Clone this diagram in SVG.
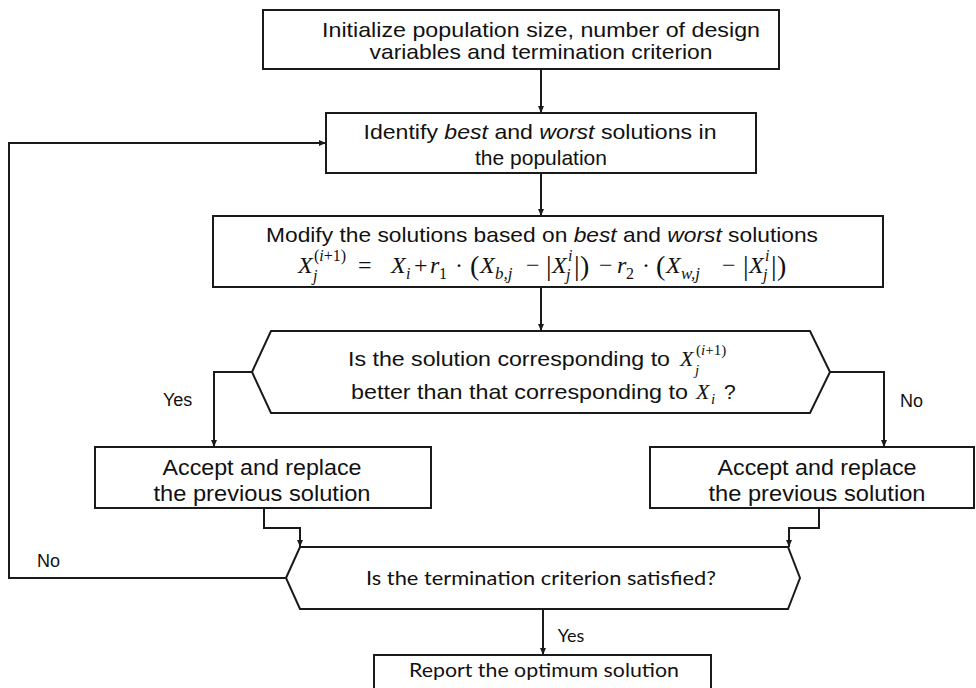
<svg xmlns="http://www.w3.org/2000/svg" width="976" height="688" viewBox="0 0 976 688">
<defs>
<marker id="ah" markerUnits="userSpaceOnUse" markerWidth="7" markerHeight="6" refX="7" refY="3" orient="auto">
<path d="M0,0 L7,3 L0,6 z" fill="#1a1a1a"/>
</marker>
<style>
.box{fill:#fff;stroke:#1a1a1a;stroke-width:2}
.con{fill:none;stroke:#1a1a1a;stroke-width:2;marker-end:url(#ah)}
.t{font-family:"Liberation Sans",Arial,sans-serif;font-size:21px;fill:#111;text-anchor:middle}
.lb{font-family:"Liberation Sans",Arial,sans-serif;font-size:18px;fill:#111}
.c{font-family:Lato,"Open Sans",sans-serif;font-size:20px;fill:#111;text-anchor:middle}
.m{font-family:"Liberation Serif","Times New Roman",serif;font-size:24px;fill:#111}
.mi{font-style:italic}
.ms{font-size:16px}
.mp{font-size:28px}
</style>
</defs>
<rect width="976" height="688" fill="#fff"/>
<g id="connectors">
<path class="con" d="M541,70 V113"/>
<path class="con" d="M541,173 V216"/>
<path class="con" d="M541,287 V331"/>
<path class="con" d="M252,372 H214 V447"/>
<path class="con" d="M830,372 H884 V447"/>
<path class="con" d="M264,508 V528 H300 V547"/>
<path class="con" d="M819,508 V528 H789 V547"/>
<path class="con" d="M286,578 H9 V143 H326"/>
<path class="con" d="M543,609 V655"/>
</g>
<g id="labels">
<text class="lb" x="163" y="406">Yes</text>
<text class="lb" x="900" y="407">No</text>
<text class="lb" x="37" y="567">No</text>
<text class="c" x="571" y="642" style="font-size:18px">Yes</text>
</g>
<g id="init">
<rect class="box" x="263" y="10" width="516" height="59"/>
<text class="t" x="541" y="37" textLength="438" lengthAdjust="spacingAndGlyphs">Initialize population size, number of design</text>
<text class="t" x="541" y="59" textLength="343" lengthAdjust="spacingAndGlyphs">variables and termination criterion</text>
</g>
<g id="identify">
<rect class="box" x="326" y="113" width="430" height="60"/>
<text class="t" x="540" y="139" textLength="353" lengthAdjust="spacingAndGlyphs">Identify <tspan font-style="italic">best</tspan> and <tspan font-style="italic">worst</tspan> solutions in</text>
<text class="t" x="541" y="165">the population</text>
</g>
<g id="modify">
<rect class="box" x="213" y="216" width="670" height="71"/>
<text class="t" x="542" y="242" textLength="552" lengthAdjust="spacingAndGlyphs">Modify the solutions based on <tspan font-style="italic">best</tspan> and <tspan font-style="italic">worst</tspan> solutions</text>
<g class="m">
<text class="mi" x="298" y="273">X</text>
<text class="ms" x="314" y="261">(<tspan class="mi">i</tspan>+1)</text>
<text class="mi ms" x="313" y="281">j</text>
<text x="358" y="273">=</text>
<text class="mi" x="391" y="273">X</text>
<text class="mi ms" x="406" y="279">i</text>
<text x="414" y="273">+</text>
<text class="mi" x="430" y="273">r</text>
<text class="ms" x="439" y="279">1</text>
<text x="455" y="273">·</text>
<text class="mp" x="470" y="275">(</text>
<text class="mi" x="480" y="273">X</text>
<text class="mi" x="495" y="279" style="font-size:17px">b,j</text>
<text x="526" y="273">−</text>
<text class="mp" x="546" y="275">|</text>
<text class="mi" x="552" y="273">X</text>
<text class="mi ms" x="568" y="261">i</text>
<text class="mi ms" x="566" y="280">j</text>
<text class="mp" x="574" y="275">|</text>
<text class="mp" x="580" y="275">)</text>
<text x="599" y="273">−</text>
<text class="mi" x="617" y="273">r</text>
<text class="ms" x="626" y="279">2</text>
<text x="642" y="273">·</text>
<text class="mp" x="656" y="275">(</text>
<text class="mi" x="666" y="273">X</text>
<text class="mi" x="681" y="279" style="font-size:17px">w,j</text>
<text x="722" y="273">−</text>
<text class="mp" x="743" y="275">|</text>
<text class="mi" x="749" y="273">X</text>
<text class="mi ms" x="765" y="261">i</text>
<text class="mi ms" x="763" y="280">j</text>
<text class="mp" x="771" y="275">|</text>
<text class="mp" x="777" y="275">)</text>
</g>
</g>
<g id="decision">
<polygon class="box" points="252,372 271,331 810,331 830,372 810,413 271,413"/>
<text class="t" x="348" y="366" style="text-anchor:start" textLength="322" lengthAdjust="spacingAndGlyphs">Is the solution corresponding to</text>
<g class="m">
<text class="mi" x="680" y="366" style="font-size:22px">X</text>
<text x="696" y="355" style="font-size:15px">(<tspan class="mi">i</tspan>+1)</text>
<text class="mi" x="695" y="375" style="font-size:15px">j</text>
</g>
<text class="t" x="351" y="399" style="text-anchor:start" textLength="337" lengthAdjust="spacingAndGlyphs">better than that corresponding to</text>
<g class="m">
<text class="mi" x="696" y="399" style="font-size:22px">X</text>
<text class="mi" x="711" y="404" style="font-size:15px">i</text>
</g>
<text class="t" x="724" y="399" style="text-anchor:start">?</text>
</g>
<g id="accept-yes">
<rect class="box" x="95" y="447" width="336" height="61"/>
<text class="t" x="262" y="475" style="font-size:22px" textLength="199" lengthAdjust="spacingAndGlyphs">Accept and replace</text>
<text class="t" x="262" y="501" style="font-size:22px" textLength="217" lengthAdjust="spacingAndGlyphs">the previous solution</text>
</g>
<g id="accept-no">
<rect class="box" x="650" y="447" width="324" height="61"/>
<text class="t" x="817" y="475" style="font-size:22px" textLength="199" lengthAdjust="spacingAndGlyphs">Accept and replace</text>
<text class="t" x="817" y="501" style="font-size:22px" textLength="217" lengthAdjust="spacingAndGlyphs">the previous solution</text>
</g>
<g id="termination">
<polygon class="box" points="286,578 300,547 788,547 800,578 788,609 300,609"/>
<text class="c" x="541" y="585" textLength="350" lengthAdjust="spacingAndGlyphs">Is the termination criterion satisfied?</text>
</g>
<g id="report">
<rect class="box" x="374" y="655" width="337" height="50"/>
<text class="c" x="544" y="677" textLength="270" lengthAdjust="spacingAndGlyphs">Report the optimum solution</text>
</g>
</svg>
